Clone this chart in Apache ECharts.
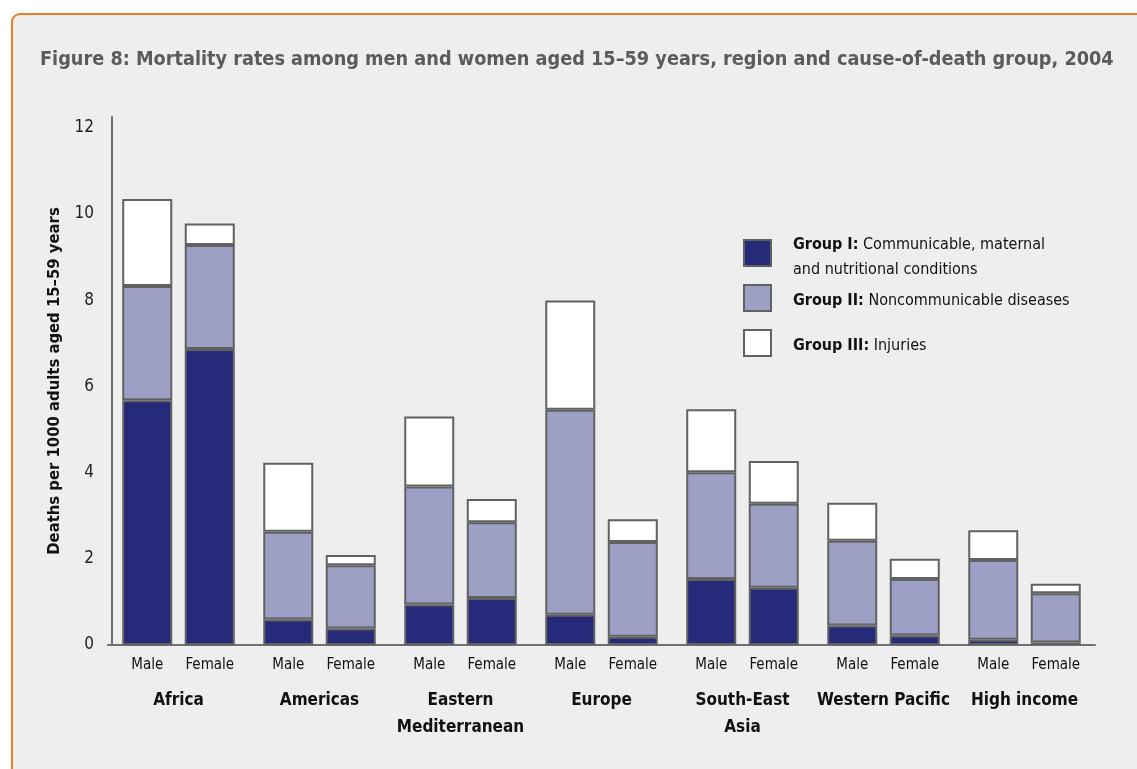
<!DOCTYPE html>
<html>
<head>
<meta charset="utf-8">
<script src="https://cdn.jsdelivr.net/npm/echarts@6/dist/echarts.min.js"></script>
<style>
  html, body { margin: 0; padding: 0; background: #ffffff; overflow: hidden; }
  #frame { position: absolute; left: 11px; top: 13px; width: 1300px; height: 900px;
           border: 2px solid #ef7d22; border-radius: 9px; background: #eeeeee; box-sizing: border-box; }
  #chart { position: absolute; left: 0; top: 0; width: 1137px; height: 769px; }
</style>
</head>
<body>
<div id="frame"></div>
<div id="chart"></div>
<script>
// ---- data (deaths per 1000 adults aged 15–59) ----
const regions = ['Africa', 'Americas', 'Eastern\nMediterranean', 'Europe', 'South-East\nAsia', 'Western Pacific', 'High income'];
const groupNames = ['Group I', 'Group II', 'Group III'];
const maleGroupI   = [5.68, 0.59, 0.94, 0.70, 1.53, 0.45, 0.12];
const maleGroupII  = [2.65, 2.04, 2.74, 4.76, 2.48, 1.97, 1.85];
const maleGroupIII = [2.02, 1.60, 1.62, 2.53, 1.46, 0.88, 0.69];
const femaleGroupI   = [6.87, 0.38, 1.09, 0.19, 1.33, 0.22, 0.06];
const femaleGroupII  = [2.41, 1.47, 1.76, 2.20, 1.95, 1.31, 1.14];
const femaleGroupIII = [0.50, 0.24, 0.54, 0.53, 0.99, 0.47, 0.22];
const yTicks = [0, 2, 4, 6, 8, 10, 12];
const legendTexts = [
  ['Group I:', 'Communicable, maternal', 'and nutritional conditions'],
  ['Group II:', 'Noncommunicable diseases'],
  ['Group III:', 'Injuries']
];

const FONT = '"Liberation Sans Narrow", "DejaVu Sans Condensed", sans-serif';
const colors = ['#262a7b', '#9da0c4', '#ffffff'];
const edge = '#616161';

const chart = echarts.init(document.getElementById('chart'), null, { renderer: 'canvas' });

function mkSeries(name, data, stack, color) {
  return {
    name: name, type: 'bar', stack: stack, data: data,
    barWidth: 50, barGap: '25%',
    itemStyle: { color: color, borderColor: edge, borderWidth: 2 },
    emphasis: { disabled: true }
  };
}
const maleSets = [maleGroupI, maleGroupII, maleGroupIII];
const femaleSets = [femaleGroupI, femaleGroupII, femaleGroupIII];
const series = [];
for (let i = 0; i < 3; i++) series.push(mkSeries(groupNames[i], maleSets[i], 'male', colors[i]));
for (let i = 0; i < 3; i++) series.push(mkSeries(groupNames[i], femaleSets[i], 'female', colors[i]));

const legendTops = [221, 278.5, 323.5];
const legends = groupNames.map((g, i) => ({
  data: [g], orient: 'vertical', left: 738, top: legendTops[i],
  itemWidth: 27, itemHeight: 26, itemGap: 0, selectedMode: false,
  icon: 'rect',
  textStyle: {
    fontFamily: FONT, fontSize: 16, color: '#111',
    rich: {
      sp: { width: 17, lineHeight: 25 },
      pad: { lineHeight: 8, fontSize: 4 },
      pad2: { lineHeight: 6, fontSize: 4 },
      b: { fontFamily: FONT, fontSize: 16, fontWeight: 'bold', color: '#111', lineHeight: 25 },
      n: { fontFamily: FONT, fontSize: 16, color: '#111', lineHeight: 25 }
    }
  },
  formatter: function () {
    const t = legendTexts[i];
    let s = '{sp|}{b|' + t[0] + '} {n|' + t[1] + '}';
    if (t[2]) s = '{pad|}\n' + s + '\n{sp|}{n|' + t[2] + '}';
    else s = '{pad2|}\n' + s;
    return s;
  }
}));

chart.setOption({
  animation: false,
  backgroundColor: 'transparent',
  title: {
    text: 'Figure 8: Mortality rates among men and women aged 15–59 years, region and cause-of-death group, 2004',
    left: 35, top: 45,
    textStyle: { fontFamily: FONT, fontSize: 19.7, fontWeight: 'bold', color: '#5b5b5b' }
  },
  legend: legends,
  grid: { left: 108, width: 987, top: 117, bottom: 124, containLabel: false },
  xAxis: {
    type: 'category', data: regions,
    axisLine: { lineStyle: { color: '#707070', width: 2 } },
    axisTick: { show: false },
    axisLabel: {
      interval: 0, margin: 8,
      formatter: function (v) {
        return '{s|Male}{s|Female}\n{sp|}\n' + v.split('\n').map(p => '{r|' + p + '}').join('\n');
      },
      rich: {
        s: { fontFamily: FONT, fontSize: 15, color: '#111', width: 62.5, align: 'center', lineHeight: 24 },
        sp: { lineHeight: 10, fontSize: 4 },
        r: { fontFamily: FONT, fontSize: 17, fontWeight: 'bold', color: '#111', lineHeight: 27, align: 'center' }
      }
    }
  },
  yAxis: {
    type: 'value', min: 0, max: 12.25, interval: 2, offset: -4,
    name: 'Deaths per 1000 adults aged 15–59 years',
    nameLocation: 'middle', nameGap: 43,
    nameTextStyle: { fontFamily: FONT, fontSize: 16.5, fontWeight: 'bold', color: '#111' },
    axisLine: { show: true, lineStyle: { color: '#707070', width: 2 } },
    axisTick: { show: false },
    splitLine: { show: false },
    axisLabel: {
      margin: 18, showMaxLabel: false,
      fontFamily: FONT, fontSize: 17, color: '#222',
      formatter: function (v) { return yTicks.indexOf(v) >= 0 ? String(v) : ''; }
    }
  },
  series: series
});
</script>
</body>
</html>
